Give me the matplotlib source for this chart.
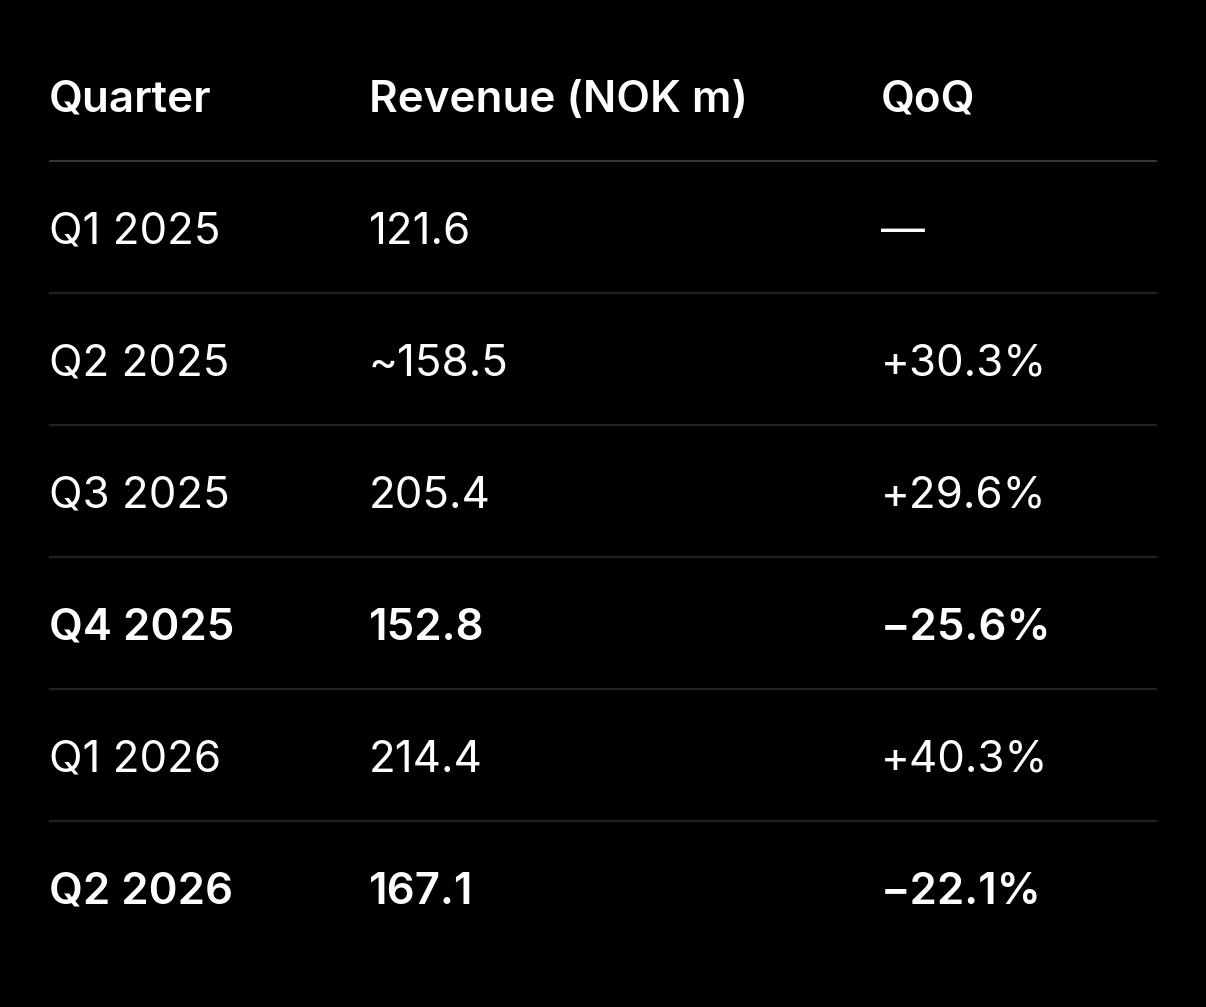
import matplotlib.pyplot as plt

plt.rcParams['font.family'] = ['Inter', 'DejaVu Sans']

# table contents
headers = ["Quarter", "Revenue (NOK m)", "QoQ"]
quarters = ["Q1 2025", "Q2 2025", "Q3 2025", "Q4 2025", "Q1 2026", "Q2 2026"]
revenue = ["121.6", "~158.5", "205.4", "152.8", "214.4", "167.1"]
qoq = ["—", "+30.3%", "+29.6%", "−25.6%", "+40.3%", "−22.1%"]
bold_rows = [False, False, False, True, False, True]

W, H = 1206, 1007
col_x = [49, 369, 881]
line_x0, line_x1 = 49, 1157
header_base = 112
first_line_y = 161
row_h = 132
base_off = 83
font_size = 31.6

fig = plt.figure(figsize=(W / 100, H / 100), dpi=100, facecolor="black")
ax = fig.add_axes([0, 0, 1, 1])
ax.set_facecolor("black")
ax.set_xlim(0, W)
ax.set_ylim(H, 0)
ax.axis("off")

for x, h in zip(col_x, headers):
    ax.text(x, header_base, h, color="white", fontsize=font_size, fontweight="semibold",
            va="baseline", ha="left")

ax.plot([line_x0, line_x1], [first_line_y, first_line_y], color="#343434", lw=1.6,
        solid_capstyle="butt")

for i, (q, r, g, b) in enumerate(zip(quarters, revenue, qoq, bold_rows)):
    yb = first_line_y + row_h * i + base_off
    weight = "semibold" if b else "normal"
    for x, t in zip(col_x, [q, r, g]):
        ax.text(x, yb, t, color="white", fontsize=font_size, fontweight=weight,
                va="baseline", ha="left")
    if i < len(quarters) - 1:
        ly = first_line_y + row_h * (i + 1)
        ax.plot([line_x0, line_x1], [ly, ly], color="#222222", lw=1.6,
                solid_capstyle="butt")

fig.savefig("out.png", dpi=100, facecolor="black")
